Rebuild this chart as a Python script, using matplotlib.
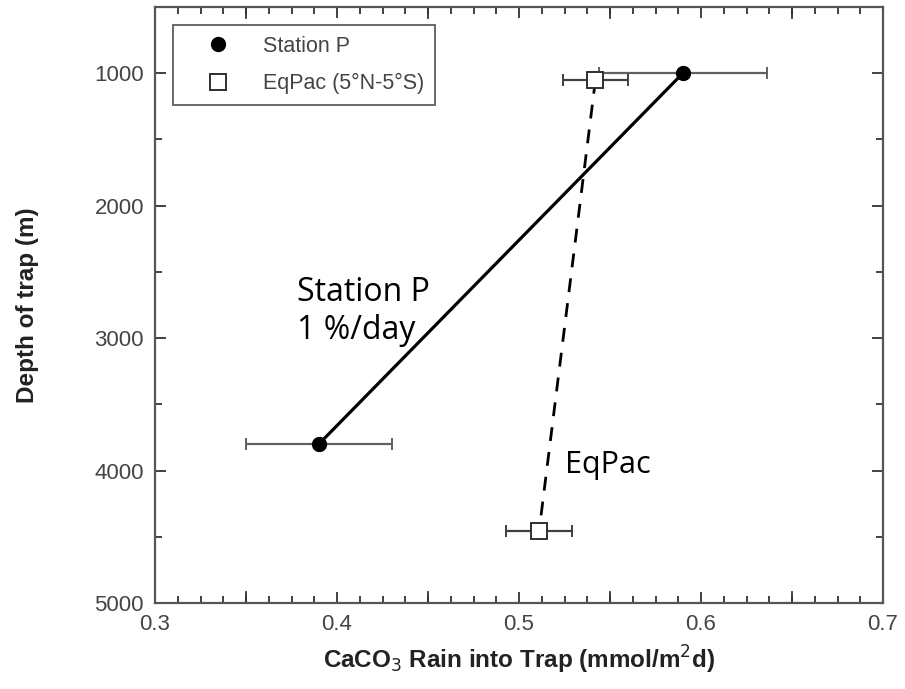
import matplotlib
matplotlib.use("Agg")
import matplotlib.pyplot as plt
from matplotlib.ticker import MultipleLocator

# CaCO3 rain measured in sediment traps
stap_rain = [0.59, 0.39]
stap_depth = [1000, 3800]
stap_err = [0.046, 0.04]

eqpac_rain = [0.542, 0.511]
eqpac_depth = [1050, 4460]
eqpac_err = [0.018, 0.018]

plt.rcParams['font.family'] = ['Liberation Sans', 'DejaVu Sans']

fig = plt.figure(figsize=(9.05, 6.89), dpi=100)
ax = fig.add_axes([0.1713, 0.1248, 0.8044, 0.865])

# error bars first, so the markers sit on top
ax.errorbar(stap_rain, stap_depth, xerr=stap_err, fmt='none', ecolor='#606060',
            elinewidth=1.6, capsize=4, capthick=1.4, zorder=2)
ax.errorbar(eqpac_rain, eqpac_depth, xerr=eqpac_err, fmt='none', ecolor='#404040',
            elinewidth=1.6, capsize=4, capthick=1.4, zorder=2)

ax.plot(stap_rain, stap_depth, '-', color='black', lw=2.3, zorder=3)
ax.plot(eqpac_rain, eqpac_depth, '--', color='black', lw=2.0, dashes=(5, 4), zorder=3)

ax.plot(stap_rain, stap_depth, 'o', color='black', ms=10, ls='none', zorder=4,
        label='Station P')
ax.plot(eqpac_rain, eqpac_depth, 's', mfc='white', mec='#303030', mew=1.4, ms=11,
        ls='none', zorder=4, label='EqPac (5\u00b0N-5\u00b0S)')

ax.set_xlim(0.3, 0.7)
ax.set_ylim(5000, 500)
ax.set_xticks([0.3, 0.4, 0.5, 0.6, 0.7])
ax.set_xticklabels(['0.3', '0.4', '0.5', '0.6', '0.7'])
ax.set_yticks([1000, 2000, 3000, 4000, 5000])
ax.xaxis.set_minor_locator(MultipleLocator(0.0125))
ax.yaxis.set_minor_locator(MultipleLocator(500))

# major ticks on x at every 0.05 drawn longer
for v in [0.35, 0.45, 0.55, 0.65]:
    for y0, y1 in [(0, 0.018), (1, 0.982)]:
        ax.plot([v, v], [y0, y1], color='#333333', lw=1.3,
                transform=ax.get_xaxis_transform(), clip_on=False, zorder=1)

ax.tick_params(which='both', direction='in', top=True, right=True, colors='#333333',
               labelcolor='#444444', labelsize=16, width=1.3)
ax.tick_params(which='major', length=8, pad=8)
ax.tick_params(which='minor', length=5)
for s in ax.spines.values():
    s.set_color('#555555')
    s.set_linewidth(1.6)

ax.set_xlabel('CaCO$_{3}$ Rain into Trap (mmol/m$^{2}$d)', fontsize=17.5, fontweight='bold',
              color='#222222', labelpad=6)
ax.set_ylabel('Depth of trap (m)', fontsize=17.5, fontweight='bold', color='#222222',
              labelpad=40)

ax.text(0.378, 2800, 'Station P\n1 %/day', fontsize=23, family=['Open Sans', 'DejaVu Sans'],
        va='center', ha='left', linespacing=1.2)
ax.text(0.5253, 3960, 'EqPac', fontsize=22, family=['Open Sans', 'DejaVu Sans'],
        va='center', ha='left')

leg = ax.legend(loc='upper left', bbox_to_anchor=(0.0247, 0.970), borderaxespad=0,
                fontsize=15.5, frameon=True, fancybox=False, edgecolor='#444444',
                handletextpad=0.5, borderpad=0.5, labelspacing=0.77, handlelength=3.2)
leg.get_frame().set_linewidth(1.4)
for t in leg.get_texts():
    t.set_color('#444444')

fig.savefig('out.png', dpi=100)
